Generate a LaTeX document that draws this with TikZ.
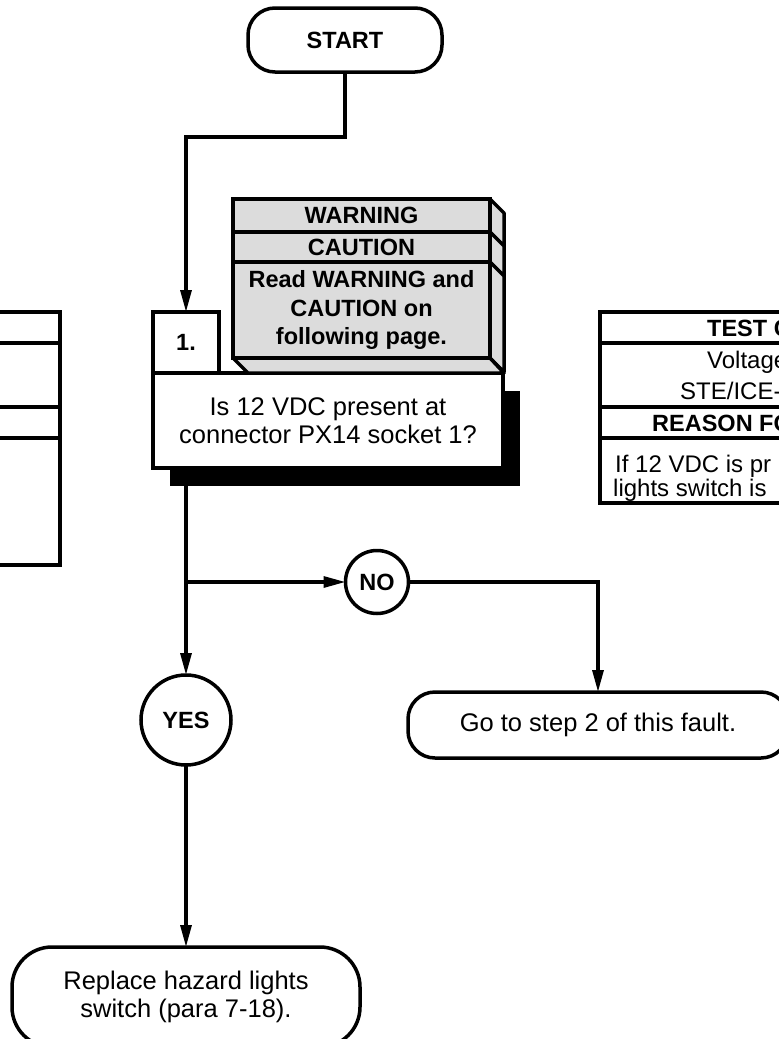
\documentclass[tikz,border=0pt]{standalone}
\usepackage{fontspec}
\setmainfont{Liberation Sans}
\usepackage{tikz}
\usetikzlibrary{arrows.meta,positioning,calc,shadows}
\definecolor{WarnGray}{HTML}{DCDCDC}

\begin{document}
\begin{tikzpicture}[
  x=1pt,y=-1pt,
  box/.style={draw,line width=3.5pt,fill=white,inner sep=0pt,outer sep=0pt,align=center,font=\fontsize{25.5}{28}\selectfont},
  term/.style={box,rounded corners=27pt},
  bold/.style={font=\fontsize{23.5}{28.5}\selectfont\bfseries},
  answer/.style={circle,draw,line width=3.5pt,fill=white,inner sep=0pt,outer sep=0pt,bold},
  warnrow/.style={draw,line width=3.5pt,fill=WarnGray,inner sep=0pt,outer sep=0pt,minimum width=257pt,align=center,bold},
  conn/.style={line width=3.2pt,-{Triangle[length=22pt,width=11pt]}},
  tabrow/.style={line width=3.5pt},
  tabtext/.style={anchor=west,inner sep=0pt,font=\fontsize{24}{28}\selectfont},
]
\useasboundingbox (0,0) rectangle (779,1039);
\clip (0,0) rectangle (779,1039);

% tables cut by the page edge
\draw[tabrow] (-40,312) rectangle (60,565);
\foreach \yy in {343,407,438}
  \draw[tabrow] (-40,\yy) -- (60,\yy);
\draw[tabrow] (600,312) rectangle (840,503);
\foreach \yy in {343,407,438}
  \draw[tabrow] (600,\yy) -- (840,\yy);
\node[tabtext,bold] (testc) at (707,328) {TEST C};
\node[tabtext] (volt) at (707,362) {Voltage};
\node[tabtext] (ste) at (680,391) {STE/ICE-R};
\node[tabtext,bold] (reason) at (652,423) {REASON FO};
\node[tabtext] (if12) at (615,466) {If 12 VDC is pr};
\node[tabtext] (lights) at (613,490) {lights switch is};

% flow
\node[term,bold,minimum width=194pt,minimum height=64pt] (start) at (345,40) {START};
\node[box,minimum width=350pt,minimum height=95pt,
  drop shadow={shadow xshift=17pt,shadow yshift=-18pt,fill=black,opacity=1}] (quest) at (328,420.5)
  {Is 12 VDC present at\\connector PX14 socket 1?};
\node[box,bold,minimum width=66pt,minimum height=61pt] (num) at (186,342.5) {1.};

% warning block
\node[warnrow,minimum height=33pt] (warn) at (361.5,215.5) {WARNING};
\node[warnrow,minimum height=30pt,below=0pt of warn] (caut) {CAUTION};
\node[warnrow,minimum height=96pt,below=0pt of caut] (read) {Read WARNING and\\CAUTION on\\following page.};
\foreach \r in {warn,caut,read}
  \filldraw[fill=WarnGray,line width=3.5pt,line join=round] (\r.north east) -- ++(14,14)
    -- ($(\r.south east)+(14,14)$) -- (\r.south east) -- cycle;
\filldraw[fill=WarnGray,line width=3.5pt,line join=round] (read.south west) -- ++(15,15)
  -- ($(read.south east)+(14,15)$) -- (read.south east) -- cycle;

\node[answer,minimum size=63pt] (no) at (377,582) {NO};
\node[answer,minimum size=90pt] (yes) at (186,720) {YES};
\node[term,minimum width=380pt,minimum height=66pt] (goto) at (598,725) {Go to step 2 of this fault.};
\node[term,rounded corners=40pt,minimum width=348pt,minimum height=100pt] (repl) at (186,997)
  {Replace hazard lights\\switch (para 7-18).};

\draw[conn] (start.south) -- ++(0,65) -| (num.north);
\draw[conn] (num |- quest.south) -- (yes.north);
\draw[conn] (num |- no) -- (no.west);
\draw[conn] (no.east) -| (goto.north);
\draw[conn] (yes.south) -- (repl.north);
\end{tikzpicture}
\end{document}
